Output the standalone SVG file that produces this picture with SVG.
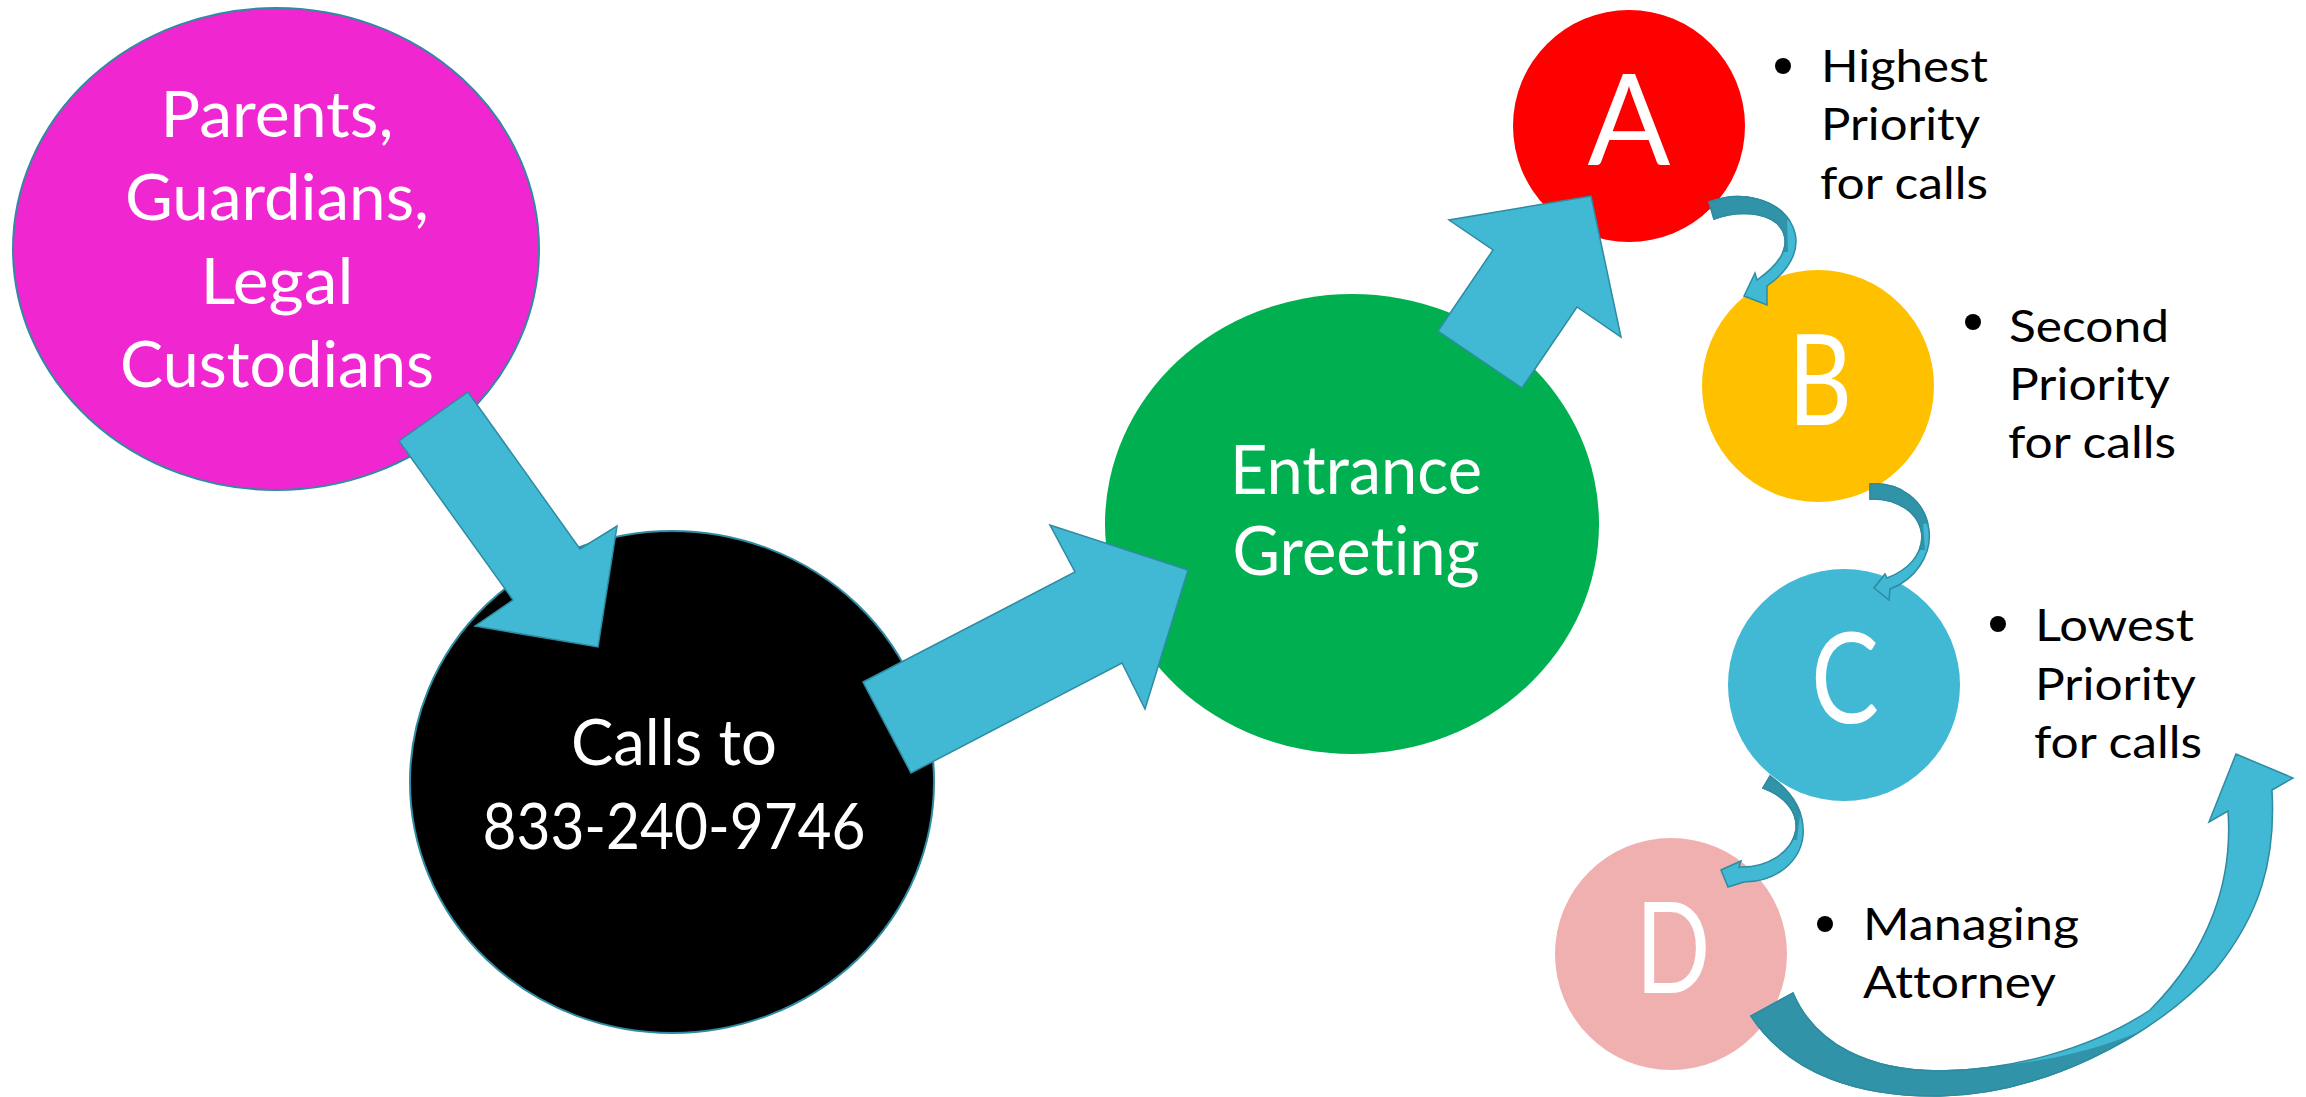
<svg xmlns="http://www.w3.org/2000/svg" width="2306" height="1097" viewBox="0 0 2306 1097">
<style>
  text { font-variant-ligatures: none; }
  .node text { font-family: Lato, "Open Sans", "Liberation Sans", sans-serif; fill: #ffffff; text-anchor: middle; }
  .big { font-size: 64px; }
  .letter { font-size: 127px; font-weight: 400; }
  .bul { font-family: Lato, "Open Sans", "Liberation Sans", sans-serif; font-size: 45px; fill: #000000; }
  .arrow { fill: #41B8D4; stroke: #2E8BA1; stroke-width: 1.5; stroke-linejoin: miter; }
  .dark { fill: #3193A8; stroke: #2E8BA1; stroke-width: 1.5; }
</style>
<defs>
  <clipPath id="cAB"><polygon points="1690,150 1815,150 1815,218 1787,220 1788,252 1690,252"/></clipPath>
  <clipPath id="cBC"><polygon points="1850,460 1955,460 1955,520 1923,524 1925,550 1850,550"/></clipPath>
  <clipPath id="cCD"><polygon points="1740,750 1825,750 1825,812 1800,815 1797,840 1740,840"/></clipPath>
  <clipPath id="cD"><path d="M1690,880 L1995,1066 Q2090,1058 2170,1018 L2170,1200 L1690,1200 Z"/></clipPath>
</defs>
<rect width="2306" height="1097" fill="#ffffff"/>

<g id="node-parents" class="node">
  <ellipse cx="276" cy="249" rx="263" ry="241" fill="#F026D0" stroke="#2E8BA1" stroke-width="2"/>
  <text class="big" x="277" y="137" textLength="233" lengthAdjust="spacingAndGlyphs">Parents,</text>
  <text class="big" x="277" y="220" textLength="304" lengthAdjust="spacingAndGlyphs">Guardians,</text>
  <text class="big" x="277" y="304" textLength="153" lengthAdjust="spacingAndGlyphs">Legal</text>
  <text class="big" x="277" y="387" textLength="314" lengthAdjust="spacingAndGlyphs">Custodians</text>
</g>

<g id="node-calls" class="node">
  <ellipse cx="672" cy="782" rx="262" ry="251" fill="#000000" stroke="#2E8BA1" stroke-width="2"/>
  <text class="big" x="674" y="765" textLength="206" lengthAdjust="spacingAndGlyphs">Calls to</text>
  <text class="big" x="674" y="849" textLength="383" lengthAdjust="spacingAndGlyphs">833-240-9746</text>
</g>

<g id="node-greeting" class="node">
  <ellipse cx="1352" cy="524" rx="247" ry="230" fill="#00B050"/>
  <text x="1356" y="494" font-size="67" textLength="252" lengthAdjust="spacingAndGlyphs">Entrance</text>
  <text x="1356" y="575" font-size="67" textLength="247" lengthAdjust="spacingAndGlyphs">Greeting</text>
</g>

<g id="node-a" class="node">
  <circle cx="1629" cy="126" r="116" fill="#FF0000"/>
  <text class="letter" x="1629" y="165" textLength="83" lengthAdjust="spacingAndGlyphs">A</text>
</g>
<g id="node-b" class="node">
  <circle cx="1818" cy="386" r="116" fill="#FFC000"/>
  <text class="letter" x="1820" y="425" textLength="64" lengthAdjust="spacingAndGlyphs">B</text>
</g>
<g id="node-c" class="node">
  <circle cx="1844" cy="685" r="116" fill="#41B8D4"/>
  <text class="letter" x="1845" y="723" textLength="68" lengthAdjust="spacingAndGlyphs">C</text>
</g>
<g id="node-d" class="node">
  <circle cx="1671" cy="954" r="116" fill="#F0B0B0"/>
  <text class="letter" x="1673" y="993" textLength="75" lengthAdjust="spacingAndGlyphs">D</text>
</g>

<g id="labels">
  <circle cx="1783" cy="66" r="8" fill="#000"/>
  <text class="bul" x="1821" y="82" textLength="167" lengthAdjust="spacingAndGlyphs">Highest</text>
  <text class="bul" x="1821" y="140" textLength="159" lengthAdjust="spacingAndGlyphs">Priority</text>
  <text class="bul" x="1820" y="199" textLength="168" lengthAdjust="spacingAndGlyphs">for calls</text>

  <circle cx="1973" cy="322" r="8" fill="#000"/>
  <text class="bul" x="2009" y="342" textLength="160" lengthAdjust="spacingAndGlyphs">Second</text>
  <text class="bul" x="2009" y="400" textLength="161" lengthAdjust="spacingAndGlyphs">Priority</text>
  <text class="bul" x="2008" y="458" textLength="168" lengthAdjust="spacingAndGlyphs">for calls</text>

  <circle cx="1998" cy="624" r="8" fill="#000"/>
  <text class="bul" x="2035" y="641" textLength="159" lengthAdjust="spacingAndGlyphs">Lowest</text>
  <text class="bul" x="2035" y="700" textLength="161" lengthAdjust="spacingAndGlyphs">Priority</text>
  <text class="bul" x="2034" y="758" textLength="168" lengthAdjust="spacingAndGlyphs">for calls</text>

  <circle cx="1825" cy="924" r="8" fill="#000"/>
  <text class="bul" x="1863" y="940" textLength="216" lengthAdjust="spacingAndGlyphs">Managing</text>
  <text class="bul" x="1863" y="998" textLength="193" lengthAdjust="spacingAndGlyphs">Attorney</text>
</g>

<g id="connectors">
  <polygon id="arrow-parents-calls" class="arrow" points="399,441 468,392 580,549 617,526 598,647 475,626 513,600"/>
  <polygon id="arrow-calls-greeting" class="arrow" points="863,682 1075,572 1050,525 1188,570 1145,709 1122,663 911,773"/>
  <polygon id="arrow-greeting-a" class="arrow" points="1438,331 1493,250 1449,220 1591,196 1621,337 1577,307 1522,388"/>

  <g id="arrow-a-b">
    <path class="arrow" d="M1709,202 C1740,190 1778,198 1792,225 C1802,245 1793,268 1767,286 L1767,305 L1744,296 L1755,273 L1757,280 C1777,266 1789,250 1784,234 C1777,214 1745,208 1714,219 Z"/>
    <path class="dark" clip-path="url(#cAB)" d="M1709,202 C1740,190 1778,198 1792,225 C1802,245 1793,268 1767,286 L1767,305 L1744,296 L1755,273 L1757,280 C1777,266 1789,250 1784,234 C1777,214 1745,208 1714,219 Z"/>
  </g>
  <g id="arrow-b-c">
    <path class="arrow" d="M1870,484 C1900,482 1925,500 1929,530 C1932,555 1915,580 1890,589 L1889,600 L1874,588 L1885,574 L1887,578 C1908,570 1922,555 1922,536 C1920,513 1898,498 1870,499 Z"/>
    <path class="dark" clip-path="url(#cBC)" d="M1870,484 C1900,482 1925,500 1929,530 C1932,555 1915,580 1890,589 L1889,600 L1874,588 L1885,574 L1887,578 C1908,570 1922,555 1922,536 C1920,513 1898,498 1870,499 Z"/>
  </g>
  <g id="arrow-c-d">
    <path class="arrow" d="M1770,776 C1792,792 1805,812 1803,836 C1800,862 1776,882 1744,882 L1728,887 L1721,870 L1741,861 L1739,867 C1768,868 1792,852 1796,830 C1798,812 1785,796 1763,788 Z"/>
    <path class="dark" clip-path="url(#cCD)" d="M1770,776 C1792,792 1805,812 1803,836 C1800,862 1776,882 1744,882 L1728,887 L1721,870 L1741,861 L1739,867 C1768,868 1792,852 1796,830 C1798,812 1785,796 1763,788 Z"/>
  </g>
  <g id="arrow-d-out">
    <path class="arrow" d="M1751,1016 C1790,1075 1860,1097 1940,1096 C2040,1094 2150,1040 2215,970 C2260,915 2276,860 2272,790 L2293,778 L2236,754 L2209,822 L2228,811 C2233,880 2210,950 2150,1010 C2090,1050 2010,1070 1940,1071 C1870,1071 1815,1045 1793,993 Z"/>
    <path class="dark" clip-path="url(#cD)" d="M1751,1016 C1790,1075 1860,1097 1940,1096 C2040,1094 2150,1040 2215,970 C2260,915 2276,860 2272,790 L2293,778 L2236,754 L2209,822 L2228,811 C2233,880 2210,950 2150,1010 C2090,1050 2010,1070 1940,1071 C1870,1071 1815,1045 1793,993 Z"/>
  </g>
</g>
</svg>
